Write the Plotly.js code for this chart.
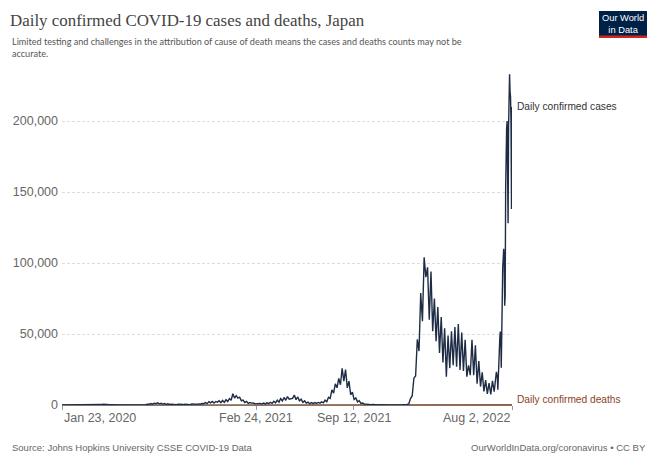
<!DOCTYPE html>
<html>
<head>
<meta charset="utf-8">
<script src="https://cdn.plot.ly/plotly-3.0.1.min.js"></script>
<style>
  html, body { margin: 0; padding: 0; background: #ffffff; }
  #chart { width: 658px; height: 464px; }
</style>
</head>
<body>
<div id="chart"></div>
<script>
// ---------------- DATA ----------------
// Daily confirmed cases, sampled every 3.5 days from 2020-01-23 (alternating weekday highs / weekend lows)
const casesStart = '2020-01-23';
const casesStepDays = 3.5;
const casesSampled = [
  0, 0, 1, 0, 2, 1, 5, 3, 15, 10,
  20, 15, 40, 30, 55, 20, 40, 40, 100, 90,
  235, 250, 500, 300, 580, 370, 430, 200, 190, 200,
  90, 60, 55, 30, 30, 20, 40, 30, 45, 15,
  40, 50, 40, 60, 100, 80, 190, 230, 350, 260,
  620, 500, 980, 600, 1300, 960, 1480, 830, 1170, 670,
  1000, 490, 860, 430, 580, 370, 640, 270, 550, 360,
  480, 300, 630, 370, 600, 290, 700, 420, 610, 480,
  800, 550, 1050, 930, 1660, 950, 2380, 1500, 2500, 1430,
  2500, 2000, 2970, 1680, 3200, 1800, 3700, 2400, 4500, 3300,
  7900, 4900, 6600, 4900, 5500, 3000, 3500, 1800, 2600, 1200,
  1700, 1300, 1400, 800, 1000, 900, 1150, 640, 1300, 800,
  1500, 1000, 1900, 1150, 2600, 1500, 3450, 2000, 4500, 2900,
  5300, 3300, 5900, 4100, 4400, 4700, 7000, 3700, 5700, 2900,
  4100, 1800, 2900, 1400, 2000, 900, 1700, 1000, 1700, 1100,
  1800, 1300, 2200, 1500, 3400, 2300, 5400, 4700, 10700, 8400,
  14900, 12100, 18800, 14300, 25800, 16800, 24900, 12100, 16800, 7200,
  9000, 3900, 5000, 2200, 3000, 1100, 1400, 600, 650, 370,
  620, 230, 340, 150, 290, 90, 170, 60, 200, 70,
  170, 50, 120, 70, 120, 70, 150, 100, 180, 120,
  280, 200, 400, 800, 4500, 6400, 18900, 20400, 46200, 38000,
  78900, 59000, 104000, 90000, 97000, 60000, 94000, 52000, 75000, 45000,
  69000, 36600, 62000, 30000, 54000, 20000, 49000, 26000, 52000, 28000,
  55000, 27000, 57000, 24600, 51000, 24000, 46000, 20000, 28000, 21000,
  46000, 21000, 42000, 15000, 31000, 13000, 23000, 9500, 17500, 7800,
  15500, 7500, 17000, 9400
];
// Daily values from 2022-06-30 to 2022-08-02
const casesDailyStart = '2022-06-30';
const casesDaily = [
  23000, 23400, 21500, 19000, 10700, 24000, 36000, 45800, 47000, 51700,
  48000, 26300, 57000, 94000, 97000, 103000, 110000, 105000, 70000, 77000,
  152000, 186000, 195000, 200000, 168000, 128000, 196000, 209000, 233000, 221000,
  217000, 199000, 138000, 210000
];

// Daily confirmed deaths (approximate)
const deathDates = [
  '2020-01-23','2020-02-15','2020-03-15','2020-04-15','2020-05-01','2020-05-15','2020-06-15',
  '2020-07-15','2020-08-15','2020-09-15','2020-10-15','2020-11-15','2020-12-15','2021-01-15',
  '2021-02-01','2021-02-15','2021-03-15','2021-04-15','2021-05-15','2021-06-01','2021-06-15',
  '2021-07-15','2021-08-15','2021-09-01','2021-09-15','2021-10-15','2021-11-15','2021-12-15',
  '2022-01-15','2022-02-01','2022-02-15','2022-03-01','2022-03-15','2022-04-15','2022-05-15',
  '2022-06-15','2022-07-15','2022-08-02'
];
const deaths = [
  0, 0, 2, 15, 20, 10, 1,
  1, 8, 10, 6, 10, 40, 80,
  90, 70, 30, 30, 100, 80, 40,
  12, 25, 60, 50, 15, 3, 1,
  10, 100, 220, 200, 120, 50, 35,
  15, 25, 110
];

const seriesNames = ['Daily confirmed cases', 'Daily confirmed deaths'];
const yTickVals = [0, 50000, 100000, 150000, 200000];
const xTickDates = ['2020-01-23', '2021-02-24', '2021-09-12', '2022-08-02'];
const xTickLabels = ['Jan 23, 2020', 'Feb 24, 2021', 'Sep 12, 2021', 'Aug 2, 2022'];
const xRange = ['2020-01-23', '2022-08-02'];

// ---------------- BUILD ----------------
const DAY = 86400000;
function ms(s) { const p = s.split('-').map(Number); return Date.UTC(p[0], p[1] - 1, p[2]); }
const caseX = [], caseY = [];
casesSampled.forEach((v, i) => { caseX.push(ms(casesStart) + i * casesStepDays * DAY); caseY.push(v); });
casesDaily.forEach((v, i) => { caseX.push(ms(casesDailyStart) + i * DAY); caseY.push(v); });
const deathX = deathDates.map(ms);

const casesColor = '#1e2c45';
const deathsColor = '#a3552d';
const deathsLabelColor = '#8a4424';

const traces = [
  { type: 'scatter', mode: 'lines', name: seriesNames[1], x: deathX, y: deaths,
    line: { color: deathsColor, width: 1.5 }, hoverinfo: 'skip' },
  { type: 'scatter', mode: 'lines', name: seriesNames[0], x: caseX, y: caseY,
    line: { color: casesColor, width: 1.4 }, hoverinfo: 'skip' }
];

const W = 658, H = 464, L = 62, R = 146, T = 70, B = 59;
const pw = W - L - R, ph = H - T - B;
const px = v => (v - L) / pw;        // pixel x -> paper x
const py = v => (H - B - v) / ph;    // pixel y -> paper y

const annotations = [];
// x tick labels
xTickDates.forEach((d, i) => {
  annotations.push({
    x: d, xref: 'x', y: py(418), yref: 'paper', text: xTickLabels[i], showarrow: false,
    xanchor: i === 0 ? 'left' : (i === xTickDates.length - 1 ? 'right' : 'center'),
    yanchor: 'middle', font: { size: 12.5, color: '#666666' }
  });
});
// series labels
annotations.push({
  x: xRange[1], xref: 'x', y: casesDaily[casesDaily.length - 1], yref: 'y',
  text: seriesNames[0], showarrow: false, xanchor: 'left', yanchor: 'middle', xshift: 3,
  font: { size: 10.2, color: '#333333' }
});
annotations.push({
  x: xRange[1], xref: 'x', y: deaths[deaths.length - 1], yref: 'y',
  text: seriesNames[1], showarrow: false, xanchor: 'left', yanchor: 'middle', xshift: 3, yshift: 5,
  font: { size: 10.2, color: deathsLabelColor }
});
// subtitle
annotations.push({
  x: px(10), xref: 'paper', y: py(34), yref: 'paper', xanchor: 'left', yanchor: 'top', align: 'left',
  showarrow: false,
  text: 'Limited testing and challenges in the attribution of cause of death means the cases and deaths counts may not be<br>accurate.',
  font: { family: 'Lato, Liberation Sans, Arial, sans-serif', size: 9.1, color: '#555555' }
});
// footer
annotations.push({
  x: px(10), xref: 'paper', y: py(447), yref: 'paper', xanchor: 'left', yanchor: 'middle',
  showarrow: false, text: 'Source: Johns Hopkins University CSSE COVID-19 Data',
  font: { size: 9.5, color: '#666666' }
});
annotations.push({
  x: px(648), xref: 'paper', y: py(447), yref: 'paper', xanchor: 'right', yanchor: 'middle',
  showarrow: false, text: 'OurWorldInData.org/coronavirus • CC BY',
  font: { size: 9.5, color: '#666666' }
});
// logo text
annotations.push({
  x: px(623), xref: 'paper', y: py(24), yref: 'paper', xanchor: 'center', yanchor: 'middle',
  showarrow: false, text: 'Our World<br>in Data', align: 'center',
  font: { size: 9.3, color: '#ffffff' }
});

const shapes = [
  { type: 'rect', xref: 'paper', yref: 'paper', x0: px(599), x1: px(647), y0: py(38), y1: py(11),
    fillcolor: '#002147', line: { width: 0 }, layer: 'above' },
  { type: 'rect', xref: 'paper', yref: 'paper', x0: px(599), x1: px(647), y0: py(38), y1: py(35.5),
    fillcolor: '#ce261e', line: { width: 0 }, layer: 'above' }
];

const layout = {
  width: W, height: H,
  margin: { l: L, r: R, t: T, b: B, pad: 0 },
  paper_bgcolor: '#ffffff', plot_bgcolor: '#ffffff',
  font: { family: 'Liberation Sans, Arial, sans-serif', color: '#666666' },
  showlegend: false,
  title: {
    text: 'Daily confirmed COVID-19 cases and deaths, Japan',
    font: { family: 'Liberation Serif, Times New Roman, serif', size: 16.9, color: '#444444' },
    xref: 'container', yref: 'container', x: 10 / W, xanchor: 'left', y: 1 - 20 / H, yanchor: 'middle'
  },
  xaxis: {
    type: 'date', range: xRange, showgrid: false, zeroline: false,
    showline: true, linecolor: '#777777', linewidth: 1,
    tickmode: 'array', tickvals: xTickDates, ticks: 'outside', ticklen: 4, tickcolor: '#999999',
    showticklabels: false, fixedrange: true
  },
  yaxis: {
    range: [0, 236000], tickmode: 'array', tickvals: yTickVals, tickformat: ',d',
    showgrid: true, gridcolor: '#dddddd', griddash: '3px,2px', gridwidth: 1,
    zeroline: false, showline: false, ticks: '', ticklabelstandoff: 3,
    tickfont: { size: 12.5, color: '#666666' }, fixedrange: true
  },
  separators: '.,',
  annotations: annotations,
  shapes: shapes
};

Plotly.newPlot('chart', traces, layout, { displayModeBar: false, staticPlot: true });
</script>
</body>
</html>
